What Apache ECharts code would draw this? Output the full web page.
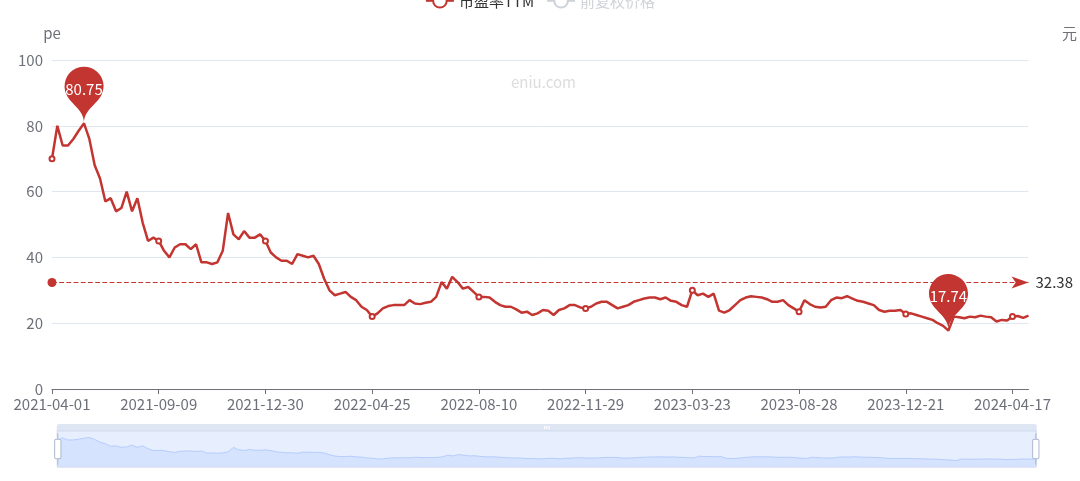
<!DOCTYPE html>
<html><head><meta charset="utf-8">
<script src="https://cdn.jsdelivr.net/npm/echarts@6/dist/echarts.min.js"></script>
<style>html,body{margin:0;padding:0;background:#fff}#c{width:1080px;height:481px}</style>
</head><body><div id="c"></div>
<script>
// categories (trading dates)
const dates = [
'2021-04-01','2021-04-09','2021-04-19','2021-04-27','2021-05-07','2021-05-17','2021-05-25','2021-06-02','2021-06-10','2021-06-18',
'2021-06-28','2021-07-06','2021-07-14','2021-07-22','2021-07-30','2021-08-09','2021-08-17','2021-08-25','2021-08-31','2021-09-03',
'2021-09-09','2021-09-15','2021-09-22','2021-09-28','2021-10-11','2021-10-15','2021-10-21','2021-10-27','2021-11-02','2021-11-08',
'2021-11-12','2021-11-18','2021-11-24','2021-11-30','2021-12-06','2021-12-10','2021-12-16','2021-12-22','2021-12-24','2021-12-28',
'2021-12-30','2022-01-06','2022-01-12','2022-01-18','2022-01-24','2022-01-28','2022-02-10','2022-02-16','2022-02-22','2022-02-28',
'2022-03-04','2022-03-10','2022-03-16','2022-03-22','2022-03-28','2022-04-01','2022-04-08','2022-04-13','2022-04-15','2022-04-20',
'2022-04-25','2022-04-29','2022-05-09','2022-05-13','2022-05-19','2022-05-25','2022-05-31','2022-06-08','2022-06-14','2022-06-20',
'2022-06-24','2022-06-30','2022-07-06','2022-07-12','2022-07-18','2022-07-22','2022-07-28','2022-08-01','2022-08-04','2022-08-08',
'2022-08-10','2022-08-16','2022-08-22','2022-08-26','2022-09-01','2022-09-07','2022-09-14','2022-09-20','2022-09-26','2022-09-30',
'2022-10-14','2022-10-20','2022-10-26','2022-11-01','2022-11-07','2022-11-11','2022-11-15','2022-11-18','2022-11-22','2022-11-25',
'2022-11-29','2022-12-05','2022-12-09','2022-12-15','2022-12-21','2022-12-27','2023-01-03','2023-01-09','2023-01-13','2023-01-19',
'2023-02-01','2023-02-07','2023-02-13','2023-02-17','2023-02-23','2023-03-01','2023-03-07','2023-03-13','2023-03-16','2023-03-20',
'2023-03-23','2023-03-31','2023-04-10','2023-04-18','2023-04-26','2023-05-08','2023-05-16','2023-05-24','2023-06-01','2023-06-09',
'2023-06-19','2023-06-29','2023-07-07','2023-07-17','2023-07-25','2023-08-02','2023-08-10','2023-08-16','2023-08-21','2023-08-24',
'2023-08-28','2023-09-01','2023-09-07','2023-09-13','2023-09-19','2023-09-25','2023-10-09','2023-10-13','2023-10-19','2023-10-25',
'2023-10-31','2023-11-06','2023-11-10','2023-11-16','2023-11-22','2023-11-28','2023-12-04','2023-12-08','2023-12-13','2023-12-18',
'2023-12-21','2023-12-27','2024-01-03','2024-01-09','2024-01-15','2024-01-19','2024-01-25','2024-01-31','2024-02-05','2024-02-08',
'2024-02-22','2024-02-28','2024-03-05','2024-03-11','2024-03-15','2024-03-21','2024-03-27','2024-04-02','2024-04-09','2024-04-12',
'2024-04-17','2024-04-19','2024-04-24','2024-04-26'
];
// 市盈率TTM
const peValues = [
70,80,74,74,76,78.5,80.75,76,68,64,
57,58,54,55,60,54,58,50.5,45,46,
45,42,40,43,44,44,42.5,44,38.5,38.5,
38,38.5,42,53.5,47,45.5,48,46,46,47,
45,41.5,40,39,39,38,41,40.5,40,40.5,
38,33.5,30,28.5,29,29.5,28,27,25,24,
22,23,24.5,25.2,25.5,25.5,25.5,27,26,25.8,
26.2,26.5,28,32.5,30.5,34.1,32.5,30.5,31,29.5,
28,28,27.8,26.5,25.5,25,25,24.2,23.2,23.5,
22.5,23,24,23.8,22.5,24,24.5,25.5,25.5,24.8,
24.5,25,26,26.5,26.5,25.5,24.5,25,25.5,26.5,
27,27.5,27.8,27.8,27.3,27.8,26.8,26.5,25.5,25,
30,28.5,29,28,29,23.8,23.2,24,25.5,27,
27.8,28.2,28,27.8,27.3,26.5,26.5,27,25.5,24.5,
23.5,27,25.8,25,24.8,25,27,27.8,27.6,28.2,
27.5,26.8,26.5,26,25.5,24,23.5,23.8,23.8,24,
22.8,23,22.5,22,21.5,21,20,19.2,17.74,22,
21.8,21.5,22,21.8,22.3,22,21.8,20.5,21,20.8,
22,22.2,21.6,22.3
];
// 前复权价格 (hidden by legend in the reference)
const priceValues = [];
const peAverage = 32.38;
const yTicks = {min: 0, max: 100, interval: 20};

const RED = '#c23531';
const FONT = '"Noto Sans CJK SC","Noto Sans",sans-serif';
const chart = echarts.init(document.getElementById('c'), null, {renderer: 'canvas'});
chart.setOption({
  animation: false,
  textStyle: {fontFamily: FONT},
  color: [RED, '#8c8c8c'],
  legend: {
    top: -12, left: 'center', itemWidth: 28, itemHeight: 17, itemGap: 12,
    textStyle: {fontSize: 15, color: '#333'},
    data: ['市盈率TTM', '前复权价格'],
    selected: {'前复权价格': false}
  },
  graphic: [{
    type: 'text', left: 511, top: 75, z: 0,
    style: {text: 'eniu.com', fill: '#dcdcdc', fontSize: 15, fontFamily: FONT}
  }],
  grid: {left: 52, right: 49, top: 60, bottom: 92},
  xAxis: {
    type: 'category', boundaryGap: false, data: dates,
    axisLine: {lineStyle: {color: '#6E7079'}},
    axisTick: {interval: 19, length: 5},
    axisLabel: {interval: 19, fontSize: 15, color: '#6E7079', margin: 8}
  },
  yAxis: [{
    type: 'value', name: 'pe', min: yTicks.min, max: yTicks.max, interval: yTicks.interval,
    nameGap: 19, nameTextStyle: {fontSize: 15, color: '#6E7079'},
    axisLabel: {fontSize: 15, color: '#6E7079', margin: 9},
    splitLine: {lineStyle: {color: '#E0E6F1'}}
  }, {
    type: 'value', name: '元', position: 'right', offset: 41,
    nameGap: 19, nameTextStyle: {fontSize: 15, color: '#6E7079'},
    axisLine: {show: false}, axisTick: {show: false},
    axisLabel: {show: false}, splitLine: {show: false}
  }],
  dataZoom: [{
    type: 'slider', xAxisIndex: 0, start: 0, end: 100,
    left: 54, right: 46, top: 424, height: 37,
    borderColor: '#d2dbee',
    fillerColor: 'rgba(135,175,274,0.2)',
    moveHandleSize: 7,
    moveHandleStyle: {color: '#D2DBEE', opacity: 0.7},
    handleSize: '85%',
    handleStyle: {color: '#fff', borderColor: '#ACB8D1'},
    dataBackground: {lineStyle: {color: '#d2dbee'}, areaStyle: {color: '#d2dbee', opacity: 0.3}},
    selectedDataBackground: {lineStyle: {color: '#8fb0f7'}, areaStyle: {color: '#8fb0f7', opacity: 0.2}}
  }],
  series: [{
    name: '市盈率TTM', type: 'line', data: peValues,
    symbol: 'emptyCircle', symbolSize: 5,
    lineStyle: {width: 2.5, color: RED},
    itemStyle: {color: RED},
    markPoint: {
      symbol: 'pin', symbolSize: 65,
      label: {fontSize: 15, color: '#fff'},
      data: [{type: 'max', name: '最大值'}, {type: 'min', name: '最小值'}]
    },
    markLine: {
      symbol: ['circle', 'arrow'], symbolSize: [9, 17],
      lineStyle: {type: 'dashed', width: 1.2, color: RED},
      label: {position: 'end', fontSize: 15, color: '#333', distance: 7},
      data: [{yAxis: peAverage, name: '平均值'}]
    }
  }, {
    name: '前复权价格', type: 'line', yAxisIndex: 1, data: priceValues,
    symbol: 'emptyCircle'
  }]
});
</script>
</body></html>
